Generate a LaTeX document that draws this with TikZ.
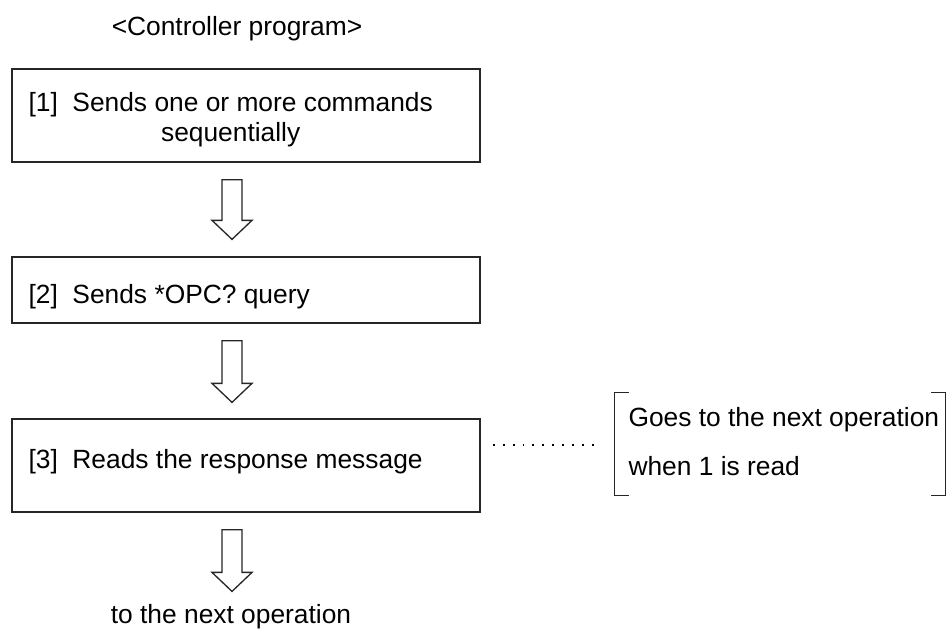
\documentclass[tikz,border=0pt]{standalone}
\usepackage{fontspec}
\setmainfont{Liberation Sans}
\usetikzlibrary{calc}

\tikzset{
  stepbox/.style={draw=black!85, line width=0.5pt, minimum width=6.24cm, inner sep=0pt},
  steptext/.style={inner sep=0pt, font=\fontsize{10}{11.4}\selectfont},
  hollow/.style={draw=black!85, line width=0.5pt, fill=white, line join=miter},
  bracket/.style={draw=black!85, line width=0.5pt},
  dots/.style={line width=0.75pt, dash pattern=on 0.75pt off 3.03pt}
}

\begin{document}
\begin{tikzpicture}[x=0.01333cm,y=-0.01333cm]
\useasboundingbox (0,0) rectangle (949,639);
\node[steptext,anchor=base] (title) at (237,35) {<Controller program>};
% the three steps
\node[stepbox,minimum height=1.24cm] (step1) at (246,115.5) {};
\node[steptext,align=center,anchor=west] (text1) at (28,120) {[1]~~Sends one or more commands\\sequentially};
\node[stepbox,minimum height=0.88cm] (step2) at (246,290) {};
\node[steptext,anchor=base west] (text2) at (28,303) {[2]~~Sends *OPC? query};
\node[stepbox,minimum height=1.24cm] (step3) at (246,465.5) {};
\node[steptext,anchor=base west] (text3) at (28,468) {[3]~~Reads the response message};
\node[steptext,anchor=base] (next) at (231,623) {to the next operation};
% hollow arrows
\coordinate (axis) at (232,0);
\foreach \a/\b/\g in {step1/step2/17,step2/step3/16,step3/next/12}{
  \coordinate (top) at ($(\a.south -| axis)+(0,17)$);
  \coordinate (tip) at ($(\b.north -| axis)+(0,-\g)$);
  \draw[hollow] ($(top)+(-10,0)$) -- ($(tip)+(-10,-19)$) -- ($(tip)+(-20,-19)$) -- (tip)
    -- ($(tip)+(20,-19)$) -- ($(tip)+(10,-19)$) -- ($(top)+(10,0)$) -- cycle;
}
% note in brackets
\node[minimum width=4.399cm, minimum height=1.36cm, inner sep=0pt] (note) at (780,444) {};
\draw[bracket] ($(note.north west)+(14,0)$) -- (note.north west) -- (note.south west) -- ++(14,0);
\draw[bracket] ($(note.north east)+(-14,0)$) -- (note.north east) -- (note.south east) -- ++(-14,0);
\node[steptext,anchor=base west] (note1) at (628,426) {Goes to the next operation};
\node[steptext,anchor=base west] (note2) at (628,475) {when 1 is read};
\draw[dots] ($(step3.east)+(12,-20.5)$) -- ($(note.west)+(-13,1)$);
\end{tikzpicture}
\end{document}
